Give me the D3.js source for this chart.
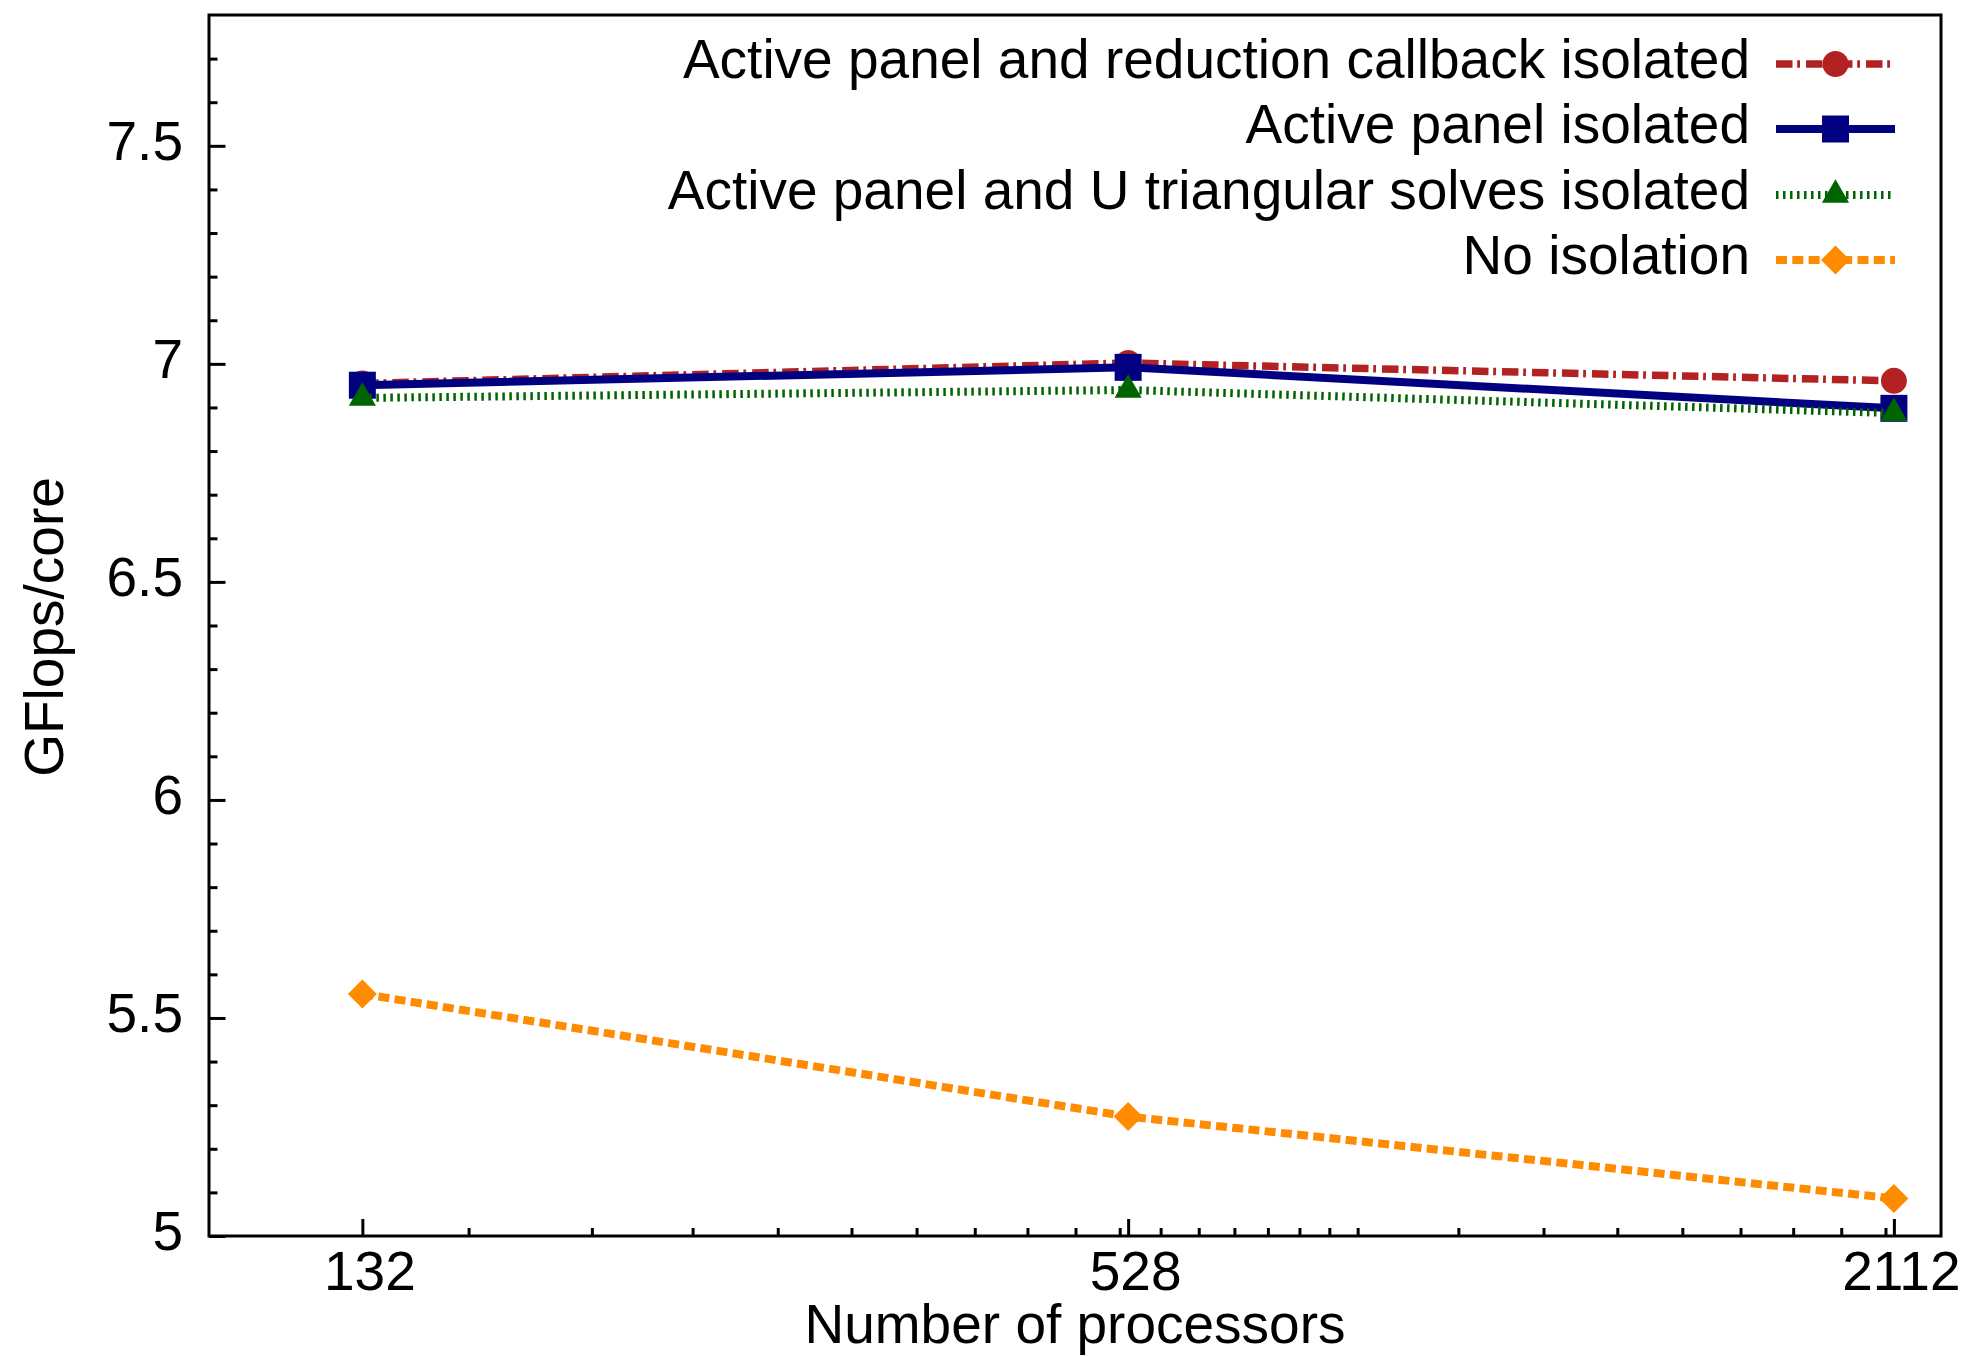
<!DOCTYPE html>
<html>
<head>
<meta charset="utf-8">
<script src="https://cdn.jsdelivr.net/npm/d3@7"></script>
<style>
  html, body { margin: 0; padding: 0; background: #fff; }
  svg text { font-family: "Liberation Sans", Arial, Helvetica, sans-serif; fill: #000; }
</style>
</head>
<body>
<div id="chart"></div>
<script>
// DATA ---------------------------------------------------------------
const processors = [132, 528, 2112];
const reductionIsolated = [6.955, 7.002, 6.961];
const panelIsolated = [6.951, 6.992, 6.898];
const triangularIsolated = [6.922, 6.940, 6.887];
const noIsolation = [5.555, 5.274, 5.086];

const seriesNames = [
  "Active panel and reduction callback isolated",
  "Active panel isolated",
  "Active panel and U triangular solves isolated",
  "No isolation"
];

const yMajorTicks = [5, 5.5, 6, 6.5, 7, 7.5];
const yMinorTicks = [5.1, 5.2, 5.3, 5.4, 5.6, 5.7, 5.8, 5.9, 6.1, 6.2, 6.3, 6.4,
  6.6, 6.7, 6.8, 6.9, 7.1, 7.2, 7.3, 7.4, 7.6, 7.7];
const xMinorTicks = [160, 200, 240, 280, 320, 360, 400, 440, 480, 520, 560, 600,
  640, 680, 720, 760, 800, 960, 1120, 1280, 1440, 1600, 1760, 1920, 2080];
// DATA ---------------------------------------------------------------

const width = 1974, height = 1357;
const margins = { top: 15, right: 33, bottom: 121, left: 209 };
const fontSize = 55;

const svg = d3.select("#chart").append("svg")
  .attr("width", width)
  .attr("height", height);

const x = d3.scaleLog().domain([100, 2300]).range([margins.left, width - margins.right]);
const y = d3.scaleLinear().domain([5, 7.8]).range([height - margins.bottom, margins.top]);

// series styles
const styles = [
  { values: reductionIsolated, color: "#b22222", width: 7.5, dash: "16.5,4.7,2.8,6", symbol: "circle" },
  { values: panelIsolated, color: "#000080", width: 8, dash: null, symbol: "square" },
  { values: triangularIsolated, color: "#006400", width: 8, dash: "2.5,4.5", symbol: "triangle" },
  { values: noIsolation, color: "#ff8c00", width: 8, dash: "11,5.3", symbol: "diamond" }
];

function symbolPath(kind){
  switch(kind){
    case "circle": return d3.symbol().type(d3.symbolCircle).size(Math.PI * 13 * 13)();
    case "square": return d3.symbol().type(d3.symbolSquare).size(27 * 27)();
    case "triangle": return d3.symbol().type(d3.symbolTriangle).size(320)();
    case "diamond": return d3.symbol().type(d3.symbolSquare).size(20.5 * 20.5)();
  }
}

function drawMarker(g, kind, color, px, py){
  g.append("path")
    .attr("d", symbolPath(kind))
    .attr("fill", color)
    .attr("transform", `translate(${px},${py})` + (kind === "diamond" ? " rotate(45)" : ""));
}

// AXES ---------------------------------------------------------------
const yAxisG = svg.append("g")
  .attr("transform", `translate(${margins.left},0)`)
  .call(d3.axisLeft(y).tickValues(yMajorTicks).tickSize(-16.5).tickPadding(26)
    .tickFormat(d3.format("")));
yAxisG.select(".domain").remove();
yAxisG.selectAll("line").attr("stroke", "#000").attr("stroke-width", 3);
yAxisG.selectAll("text").attr("font-size", fontSize).attr("dy", 13.5)
  .style("font-family", "'Liberation Sans', Arial, sans-serif");

const yMinorG = svg.append("g")
  .attr("transform", `translate(${margins.left},0)`)
  .call(d3.axisLeft(y).tickValues(yMinorTicks).tickSize(-8.5).tickFormat(""));
yMinorG.select(".domain").remove();
yMinorG.selectAll("line").attr("stroke", "#000").attr("stroke-width", 3);

const xAxisG = svg.append("g")
  .attr("transform", `translate(0,${height - margins.bottom})`)
  .call(d3.axisBottom(x).tickValues(processors).tickSize(-17).tickFormat(d3.format("d")));
xAxisG.select(".domain").remove();
xAxisG.selectAll("line").attr("stroke", "#000").attr("stroke-width", 3);
xAxisG.selectAll("text").attr("font-size", fontSize)
  .attr("y", 54).attr("dy", 0).attr("dx", 7)
  .style("font-family", "'Liberation Sans', Arial, sans-serif");

const xMinorG = svg.append("g")
  .attr("transform", `translate(0,${height - margins.bottom})`)
  .call(d3.axisBottom(x).tickValues(xMinorTicks).tickSize(-8).tickFormat(""));
xMinorG.select(".domain").remove();
xMinorG.selectAll("line").attr("stroke", "#000").attr("stroke-width", 3);

// frame
svg.append("rect")
  .attr("x", margins.left)
  .attr("y", margins.top)
  .attr("width", width - margins.left - margins.right)
  .attr("height", height - margins.top - margins.bottom)
  .attr("fill", "none")
  .attr("stroke", "#000")
  .attr("stroke-width", 3);

// axis titles
svg.append("text")
  .attr("transform", `translate(63,627) rotate(-90)`)
  .attr("text-anchor", "middle")
  .attr("font-size", fontSize)
  .text("GFlops/core");

svg.append("text")
  .attr("x", 1075)
  .attr("y", 1343)
  .attr("text-anchor", "middle")
  .attr("font-size", fontSize)
  .text("Number of processors");

// SERIES -------------------------------------------------------------
const line = d3.line()
  .x((d, i) => x(processors[i]))
  .y(d => y(d));

styles.forEach((s) => {
  const g = svg.append("g").attr("class", "series");
  g.append("path")
    .attr("d", line(s.values))
    .attr("fill", "none")
    .attr("stroke", s.color)
    .attr("stroke-width", s.width)
    .attr("stroke-dasharray", s.dash)
    .attr("stroke-linejoin", "miter");
  s.values.forEach((v, i) => drawMarker(g, s.symbol, s.color, x(processors[i]), y(v)));
});

// LEGEND -------------------------------------------------------------
const legend = svg.append("g").attr("class", "legend");
const legendRowY = [64, 129, 195, 260];
styles.forEach((s, i) => {
  const ly = legendRowY[i];
  legend.append("text")
    .attr("x", 1750)
    .attr("y", ly + 14)
    .attr("text-anchor", "end")
    .attr("font-size", fontSize)
    .text(seriesNames[i]);
  legend.append("line")
    .attr("x1", 1776).attr("x2", 1895)
    .attr("y1", ly).attr("y2", ly)
    .attr("stroke", s.color)
    .attr("stroke-width", s.width)
    .attr("stroke-dasharray", s.dash);
  drawMarker(legend, s.symbol, s.color, 1835.5, ly);
});
</script>
</body>
</html>
